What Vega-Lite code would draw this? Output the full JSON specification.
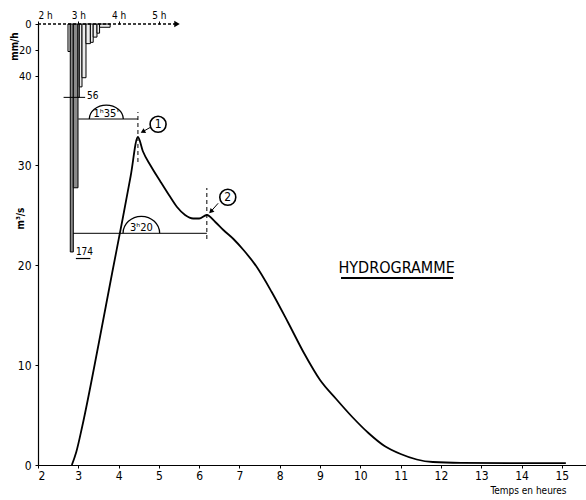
{
  "$schema": "https://vega.github.io/schema/vega-lite/v6.json",
  "width": 548,
  "height": 441,
  "autosize": "none",
  "padding": {"left": 38, "top": 24, "right": 0, "bottom": 35},
  "background": "white",
  "config": {
    "view": {"stroke": null},
    "font": "DejaVu Sans Condensed",
    "axis": {"grid": false, "domainColor": "black", "tickColor": "black", "labelColor": "black", "titleColor": "black", "labelFont": "DejaVu Sans Condensed", "titleFont": "DejaVu Sans Condensed"}
  },
  "resolve": {"scale": {"y": "independent"}, "axis": {"x": "independent", "y": "independent"}},
  "layer": [
    {
      "encoding": {
        "x": {"field": "h", "type": "quantitative", "scale": {"domain": [2, 15.6], "nice": false, "zero": false},
          "axis": {"values": [2,3,4,5,6,7,8,9,10,11,12,13,14,15], "title": "Temps en heures", "titleX": 490, "titleY": 25, "titleBaseline": "middle", "titleFontSize": 10, "titleFontWeight": "normal", "labelFontSize": 12, "tickSize": 3, "labelPadding": 2, "domainWidth": 1.2}},
        "y": {"field": "q", "type": "quantitative", "scale": {"domain": [0, 44.1], "nice": false, "zero": false},
          "axis": {"values": [0,10,20,30], "title": "m³/s", "titleX": -18, "titleY": 194, "titleAngle": -90, "titleAlign": "center", "titleBaseline": "middle", "titleFontSize": 10, "titleFontWeight": "bold", "labelFontSize": 12, "tickSize": 3, "labelPadding": 4, "domainWidth": 1.2}}
      },
      "layer": [
        {
          "data": {"values": [
            {"h": 2.84, "q": 0}, {"h": 2.95, "q": 1.3}, {"h": 3.1, "q": 3.9}, {"h": 3.5, "q": 12.0},
            {"h": 3.84, "q": 19.2}, {"h": 4.1, "q": 24.6}, {"h": 4.3, "q": 28.9}, {"h": 4.48, "q": 32.8},
            {"h": 4.6, "q": 31.4}, {"h": 4.8, "q": 29.9}, {"h": 5.03, "q": 28.4}, {"h": 5.25, "q": 27.0},
            {"h": 5.45, "q": 25.8}, {"h": 5.65, "q": 25.0}, {"h": 5.85, "q": 24.65}, {"h": 6.0, "q": 24.65},
            {"h": 6.19, "q": 25.0}, {"h": 6.4, "q": 24.3}, {"h": 6.6, "q": 23.5}, {"h": 6.85, "q": 22.6},
            {"h": 7.1, "q": 21.5}, {"h": 7.43, "q": 19.8}, {"h": 7.8, "q": 17.3}, {"h": 8.2, "q": 14.3},
            {"h": 8.6, "q": 11.2}, {"h": 9.0, "q": 8.5}, {"h": 9.4, "q": 6.6}, {"h": 9.8, "q": 4.8},
            {"h": 10.2, "q": 3.2}, {"h": 10.6, "q": 1.9}, {"h": 11.0, "q": 1.1}, {"h": 11.4, "q": 0.55},
            {"h": 11.8, "q": 0.3}, {"h": 12.5, "q": 0.22}, {"h": 15.1, "q": 0.18}
          ]},
          "mark": {"type": "line", "color": "black", "strokeWidth": 1.8, "interpolate": "monotone"}
        },
        {
          "data": {"values": [
            {"h": 3.0, "q": 34.6, "h2": 4.48, "q2": 34.6},
            {"h": 2.84, "q": 23.17, "h2": 6.19, "q2": 23.17},
            {"h": 4.79, "q": 33.77, "h2": 4.6, "q2": 33.33},
            {"h": 6.47, "q": 26.17, "h2": 6.29, "q2": 25.35}
          ]},
          "mark": {"type": "rule", "color": "black", "strokeWidth": 1},
          "encoding": {"x2": {"field": "h2"}, "y2": {"field": "q2"}}
        },
        {
          "data": {"values": [{"h": 9.52, "q": 18.7, "h2": 12.3, "q2": 18.7}]},
          "mark": {"type": "rule", "color": "black", "strokeWidth": 2},
          "encoding": {"x2": {"field": "h2"}, "y2": {"field": "q2"}}
        },
        {
          "data": {"values": [
            {"h": 4.48, "q": 30.3, "h2": 4.48, "q2": 35.3},
            {"h": 6.19, "q": 22.6, "h2": 6.19, "q2": 27.7}
          ]},
          "mark": {"type": "rule", "color": "black", "strokeWidth": 1, "strokeDash": [4, 3]},
          "encoding": {"x2": {"field": "h2"}, "y2": {"field": "q2"}}
        },
        {
          "data": {"values": [{"h": 4.6, "q": 33.33}]},
          "mark": {"type": "point", "shape": "triangle-up", "size": 30, "filled": true, "color": "black", "opacity": 1, "angle": 242}
        },
        {
          "data": {"values": [{"h": 6.29, "q": 25.35}]},
          "mark": {"type": "point", "shape": "triangle-up", "size": 30, "filled": true, "color": "black", "opacity": 1, "angle": 225}
        },
        {
          "data": {"values": [{"h": 3.695, "q": 34.6}]},
          "mark": {"type": "point", "shape": "M-1,0A1,0.82 0 0 1 1,0", "size": 1156, "filled": false, "stroke": "black", "strokeWidth": 1.3, "opacity": 1}
        },
        {
          "data": {"values": [{"h": 4.565, "q": 23.17}]},
          "mark": {"type": "point", "shape": "M-1,0A1,0.93 0 0 1 1,0", "size": 1340, "filled": false, "stroke": "black", "strokeWidth": 1.3, "opacity": 1}
        },
        {
          "data": {"values": [{"h": 4.98, "q": 34.07}, {"h": 6.71, "q": 26.77}]},
          "mark": {"type": "point", "shape": "circle", "size": 256, "filled": false, "stroke": "black", "strokeWidth": 1.6, "opacity": 1}
        },
        {
          "data": {"values": [
            {"h": 4.98, "q": 34.07, "label": "1"},
            {"h": 6.71, "q": 26.77, "label": "2"}
          ]},
          "mark": {"type": "text", "fontSize": 12, "align": "center", "baseline": "middle", "color": "black"},
          "encoding": {"text": {"field": "label"}}
        },
        {
          "data": {"values": [
            {"h": 3.695, "q": 34.65, "label": "1ʰ35'"},
            {"h": 4.565, "q": 23.25, "label": "3ʰ20"}
          ]},
          "mark": {"type": "text", "fontSize": 11, "align": "center", "baseline": "bottom", "color": "black"},
          "encoding": {"text": {"field": "label"}}
        },
        {
          "data": {"values": [{"h": 10.9, "q": 19.7, "label": "HYDROGRAMME"}]},
          "mark": {"type": "text", "fontSize": 16, "align": "center", "baseline": "middle", "color": "black"},
          "encoding": {"text": {"field": "label"}}
        }
      ]
    },
    {
      "encoding": {
        "x": {"field": "h", "type": "quantitative", "scale": {"domain": [2, 15.6], "nice": false, "zero": false},
          "axis": {"orient": "top", "values": [2,3,4,5], "labelExpr": "datum.value + ' h'", "domain": false, "tickSize": 3, "labelPadding": 1, "title": null, "labelFontSize": 10}},
        "y": {"field": "r", "type": "quantitative", "scale": {"domain": [0, 336.6], "reverse": true, "nice": false, "zero": false},
          "axis": {"orient": "left", "values": [0, 20, 40], "domain": false, "title": "mm/h", "titleX": -24, "titleY": 22, "titleAngle": -90, "titleAlign": "center", "titleBaseline": "middle", "titleFontSize": 10, "titleFontWeight": "bold", "labelFontSize": 11, "tickSize": 3, "labelPadding": 4}}
      },
      "layer": [
        {
          "data": {"values": [
            {"h": 2.744, "h2": 2.801, "r": 21},
            {"h": 2.801, "h2": 2.876, "r": 174},
            {"h": 2.876, "h2": 2.993, "r": 125},
            {"h": 2.993, "h2": 3.025, "r": 56},
            {"h": 3.025, "h2": 3.092, "r": 48},
            {"h": 3.092, "h2": 3.191, "r": 41},
            {"h": 3.191, "h2": 3.30, "r": 15},
            {"h": 3.30, "h2": 3.37, "r": 14},
            {"h": 3.37, "h2": 3.464, "r": 10},
            {"h": 3.464, "h2": 3.528, "r": 7},
            {"h": 3.528, "h2": 3.79, "r": 2.5}
          ]},
          "mark": {"type": "rect", "stroke": "black", "strokeWidth": 1},
          "encoding": {
            "x2": {"field": "h2"},
            "y2": {"datum": 0},
            "fill": {"condition": {"test": "datum.r > 100", "value": "#8a8a8a"}, "value": "#ececec"}
          }
        },
        {
          "data": {"values": [{"h": 2, "h2": 5.4, "r": 0}]},
          "mark": {"type": "rule", "color": "black", "strokeWidth": 1.5, "strokeDash": [3, 2]},
          "encoding": {"x2": {"field": "h2"}}
        },
        {
          "data": {"values": [{"h": 5.45, "r": 0}]},
          "mark": {"type": "point", "shape": "triangle-right", "size": 40, "filled": true, "color": "black", "opacity": 1}
        },
        {
          "data": {"values": [{"h": 2.635, "h2": 3.17, "r": 56}]},
          "mark": {"type": "rule", "color": "black", "strokeWidth": 1},
          "encoding": {"x2": {"field": "h2"}}
        },
        {
          "data": {"values": [{"h": 2.94, "h2": 3.3, "r": 179}]},
          "mark": {"type": "rule", "color": "black", "strokeWidth": 1.2},
          "encoding": {"x2": {"field": "h2"}}
        },
        {
          "data": {"values": [
            {"h": 3.216, "r": 54.6, "label": "56"},
            {"h": 2.94, "r": 174.4, "label": "174"}
          ]},
          "mark": {"type": "text", "fontSize": 10, "align": "left", "baseline": "middle", "color": "black"},
          "encoding": {"text": {"field": "label"}}
        }
      ]
    }
  ]
}
